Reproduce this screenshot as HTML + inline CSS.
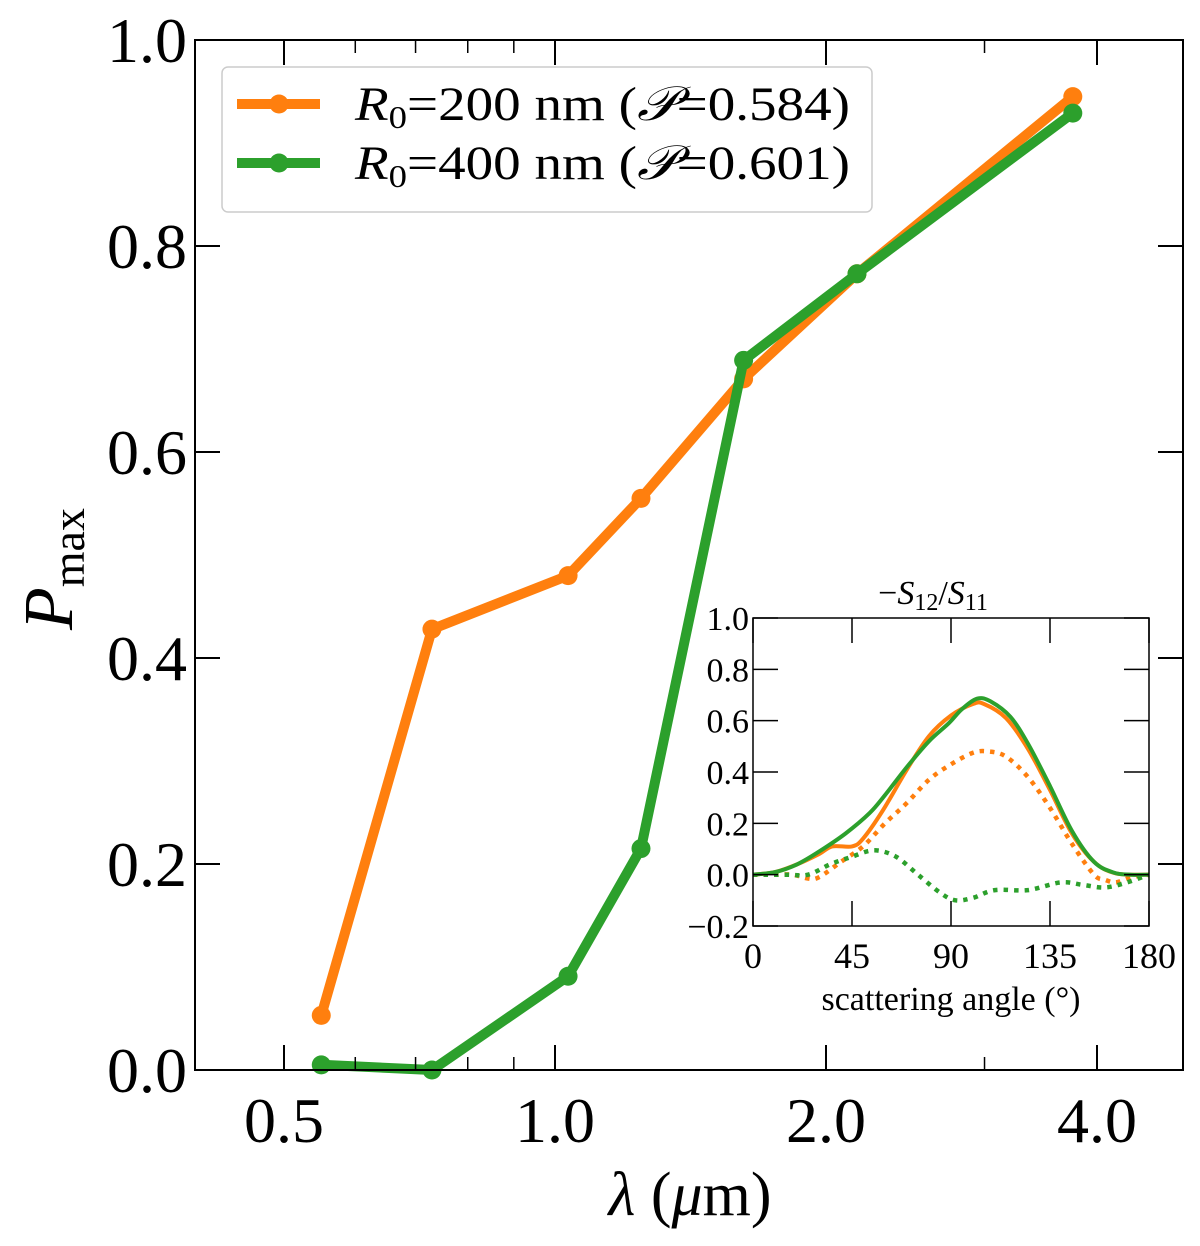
<!DOCTYPE html>
<html><head><meta charset="utf-8"><style>
html,body{margin:0;padding:0;background:#fff;}
svg{display:block;font-family:"Liberation Serif","DejaVu Serif",serif;}
</style></head><body>
<svg id="c" width="1200" height="1246" viewBox="0 0 1200 1246" xmlns="http://www.w3.org/2000/svg"></svg>
<script>
// main chart data
const lambdas = [0.55, 0.73, 1.034, 1.246, 1.62, 2.165, 3.76];
const pmaxR200 = [0.053, 0.428, 0.48, 0.555, 0.671, 0.773, 0.945];
const pmaxR400 = [0.005, 0.0, 0.091, 0.215, 0.689, 0.773, 0.929];
const xTickVals = [0.5, 1.0, 2.0, 4.0];
const xTickLabels = ["0.5", "1.0", "2.0", "4.0"];
const xMinorVals = [0.6, 0.7, 0.8, 0.9, 3.0];
const yTickVals = [0, 0.2, 0.4, 0.6, 0.8, 1.0];
const yTickLabels = ["0.0", "0.2", "0.4", "0.6", "0.8", "1.0"];
// inset data
const angOrangeSolid = [0,10,20,30,36,45,50,59,70,80,90,100,105,115,125,135,145,155,165,180];
const valOrangeSolid = [0,0.01,0.04,0.08,0.11,0.11,0.14,0.25,0.41,0.54,0.62,0.665,0.665,0.61,0.49,0.33,0.16,0.05,0.005,0];
const angGreenSolid = [0,10,20,30,42,53,60,70,80,89,95,102,108,117,125,135,145,155,164,172,180];
const valGreenSolid = [0,0.01,0.04,0.09,0.16,0.24,0.31,0.42,0.52,0.59,0.645,0.686,0.675,0.615,0.51,0.345,0.17,0.05,0.008,0,0];
const angOrangeDot = [0,10,18,25,30,40,50,60,70,80,90,100,107,115,125,135,145,155,160,165,172,180];
const valOrangeDot = [0,0,0,-0.015,-0.01,0.05,0.11,0.2,0.28,0.37,0.43,0.475,0.48,0.46,0.38,0.26,0.12,0.0,-0.02,-0.03,-0.01,0];
const angGreenDot = [0,15,25,35,45,55,65,75,85,92,100,110,125,140,150,160,170,180];
const valGreenDot = [0,0,0,0.04,0.07,0.095,0.07,0.0,-0.07,-0.1,-0.09,-0.06,-0.06,-0.03,-0.04,-0.05,-0.03,0];
const insetXTicks = [0,45,90,135,180];
const insetYTicks = [-0.2,0,0.2,0.4,0.6,0.8,1.0];
const insetYLabels = ["\u22120.2","0.0","0.2","0.4","0.6","0.8","1.0"];

const NS="http://www.w3.org/2000/svg";
const svg=document.getElementById('c');
function mk(tag,attrs,parent){const e=document.createElementNS(NS,tag);for(const k in attrs)e.setAttribute(k,attrs[k]);(parent||svg).appendChild(e);return e;}
const ORANGE="#ff7f0e", GREEN="#2ca02c";
const L=195,R=1183,T=40,B=1070;
const xs=v=>284+271*Math.log2(v/0.5);
const ys=v=>B-(v)*1030;

function series(xv,yv,color,name){
  const g=mk('g',{});
  
  
  const pts=xv.map((x,i)=>xs(x).toFixed(1)+','+ys(yv[i]).toFixed(1)).join(' ');
  const pl=mk('polyline',{points:pts,fill:'none',stroke:color,'stroke-width':10,'stroke-linejoin':'round'},g);
  
  
  xv.forEach((x,i)=>{const c=mk('circle',{cx:xs(x),cy:ys(yv[i]),r:9.5,fill:color},g);
    
    });
}
series(lambdas,pmaxR200,ORANGE,'series-r200');
series(lambdas,pmaxR400,GREEN,'series-r400');

const fr=mk('rect',{x:L,y:T,width:R-L,height:B-T,fill:'none',stroke:'#000','stroke-width':2});


xTickVals.forEach((v,i)=>{const x=xs(v);
  mk('line',{x1:x,y1:B,x2:x,y2:B-25,stroke:'#000','stroke-width':2});
  mk('line',{x1:x,y1:T,x2:x,y2:T+25,stroke:'#000','stroke-width':2});
  const t=mk('text',{x:x,y:B+72,'font-size':64,'text-anchor':'middle'});t.textContent=xTickLabels[i];
  
  });
xMinorVals.forEach(v=>{const x=xs(v);
  mk('line',{x1:x,y1:B,x2:x,y2:B-13,stroke:'#000','stroke-width':1.5});
  mk('line',{x1:x,y1:T,x2:x,y2:T+13,stroke:'#000','stroke-width':1.5});});
yTickVals.forEach((v,i)=>{const y=ys(v);
  mk('line',{x1:L,y1:y,x2:L+25,y2:y,stroke:'#000','stroke-width':2});
  mk('line',{x1:R,y1:y,x2:R-25,y2:y,stroke:'#000','stroke-width':2});
  const t=mk('text',{x:L-8,y:y+22,'font-size':64,'text-anchor':'end'});t.textContent=yTickLabels[i];
  
  });
let t=mk('text',{x:690,y:1215,'font-size':62,'text-anchor':'middle'});
t.innerHTML='<tspan font-style="italic">λ</tspan> (<tspan font-style="italic">μ</tspan>m)';


t=mk('text',{x:0,y:0,'font-size':70,'transform':'translate(72,630) rotate(-90)'});
t.innerHTML='<tspan font-style="italic">P</tspan><tspan font-size="46" dy="12">max</tspan>';



const lg=mk('g',{});


mk('rect',{x:222,y:67,width:650,height:145,rx:6,fill:'#fff',stroke:'#ccc','stroke-width':1.5},lg);
[[ORANGE,104,'200','0.584'],[GREEN,163,'400','0.601']].forEach((e,i)=>{
  const g=mk('g',{},lg);
  
  
  mk('line',{x1:237,y1:e[1],x2:320,y2:e[1],stroke:e[0],'stroke-width':10},g);
  mk('circle',{cx:279,cy:e[1],r:9.5,fill:e[0]},g);
  const tt=mk('text',{x:355,y:e[1]+16,'font-size':48,textLength:495,lengthAdjust:'spacingAndGlyphs'},g);
  tt.innerHTML='<tspan font-style="italic">R</tspan><tspan font-size="32" dy="8">0</tspan><tspan dy="-8">=</tspan>'+e[2]+' nm (<tspan font-style="italic">𝒫</tspan>=' +e[3]+')';
});

const iL=753,iR=1149,iT=618,iB=926;
const ix=a=>iL+(iR-iL)*a/180;
const iy=v=>iB-(v+0.2)*(iB-iT)/1.2;
const ig=mk('g',{});


mk('rect',{x:iL,y:iT,width:iR-iL,height:iB-iT,fill:'#fff',stroke:'none'},ig);
function smoothPath(P){
  let d='M'+P[0][0].toFixed(1)+','+P[0][1].toFixed(1);
  for(let i=0;i<P.length-1;i++){
    const p0=P[Math.max(0,i-1)],p1=P[i],p2=P[i+1],p3=P[Math.min(P.length-1,i+2)];
    const c1=[p1[0]+(p2[0]-p0[0])/6,p1[1]+(p2[1]-p0[1])/6];
    const c2=[p2[0]-(p3[0]-p1[0])/6,p2[1]-(p3[1]-p1[1])/6];
    d+=' C'+c1.map(v=>v.toFixed(1)).join(',')+' '+c2.map(v=>v.toFixed(1)).join(',')+' '+p2[0].toFixed(1)+','+p2[1].toFixed(1);
  }
  return d;
}
function icurve(a,v,color,dotted,name){
  const P=a.map((x,i)=>[ix(x),iy(v[i])]);
  const p=mk('path',{d:smoothPath(P),fill:'none',stroke:color,'stroke-width':dotted?4.5:4,'stroke-dasharray':dotted?'4.5 6':'none','stroke-linejoin':'round'},ig);
  
  
}
icurve(angOrangeDot,valOrangeDot,ORANGE,true,'inset-orange-dotted');
icurve(angGreenDot,valGreenDot,GREEN,true,'inset-green-dotted');
icurve(angOrangeSolid,valOrangeSolid,ORANGE,false,'inset-orange-solid');
icurve(angGreenSolid,valGreenSolid,GREEN,false,'inset-green-solid');
mk('rect',{x:iL,y:iT,width:iR-iL,height:iB-iT,fill:'none',stroke:'#000','stroke-width':1.5},ig);
insetXTicks.forEach(a=>{const x=ix(a);
  mk('line',{x1:x,y1:iB,x2:x,y2:iB-25,stroke:'#000','stroke-width':1.5},ig);
  mk('line',{x1:x,y1:iT,x2:x,y2:iT+25,stroke:'#000','stroke-width':1.5},ig);
  const tt=mk('text',{x:x,y:iB+42,'font-size':36,'text-anchor':'middle'},ig);tt.textContent=a;
  
  });
insetYTicks.forEach((v,i)=>{const y=iy(v);
  mk('line',{x1:iL,y1:y,x2:iL+25,y2:y,stroke:'#000','stroke-width':1.5},ig);
  mk('line',{x1:iR,y1:y,x2:iR-25,y2:y,stroke:'#000','stroke-width':1.5},ig);
  const tt=mk('text',{x:iL-4,y:y+12,'font-size':34,'text-anchor':'end'},ig);tt.textContent=insetYLabels[i];
  
  });
t=mk('text',{x:iL+(iR-iL)/2,y:1010,'font-size':34,'text-anchor':'middle'},ig);
t.textContent='scattering angle (°)';


t=mk('text',{x:iL+(iR-iL)/2-18,y:604,'font-size':34,'text-anchor':'middle'},ig);
t.innerHTML='−<tspan font-style="italic">S</tspan><tspan font-size="24" dy="6">12</tspan><tspan dy="-6">/</tspan><tspan font-style="italic">S</tspan><tspan font-size="24" dy="6">11</tspan>';


</script>
</body></html>
